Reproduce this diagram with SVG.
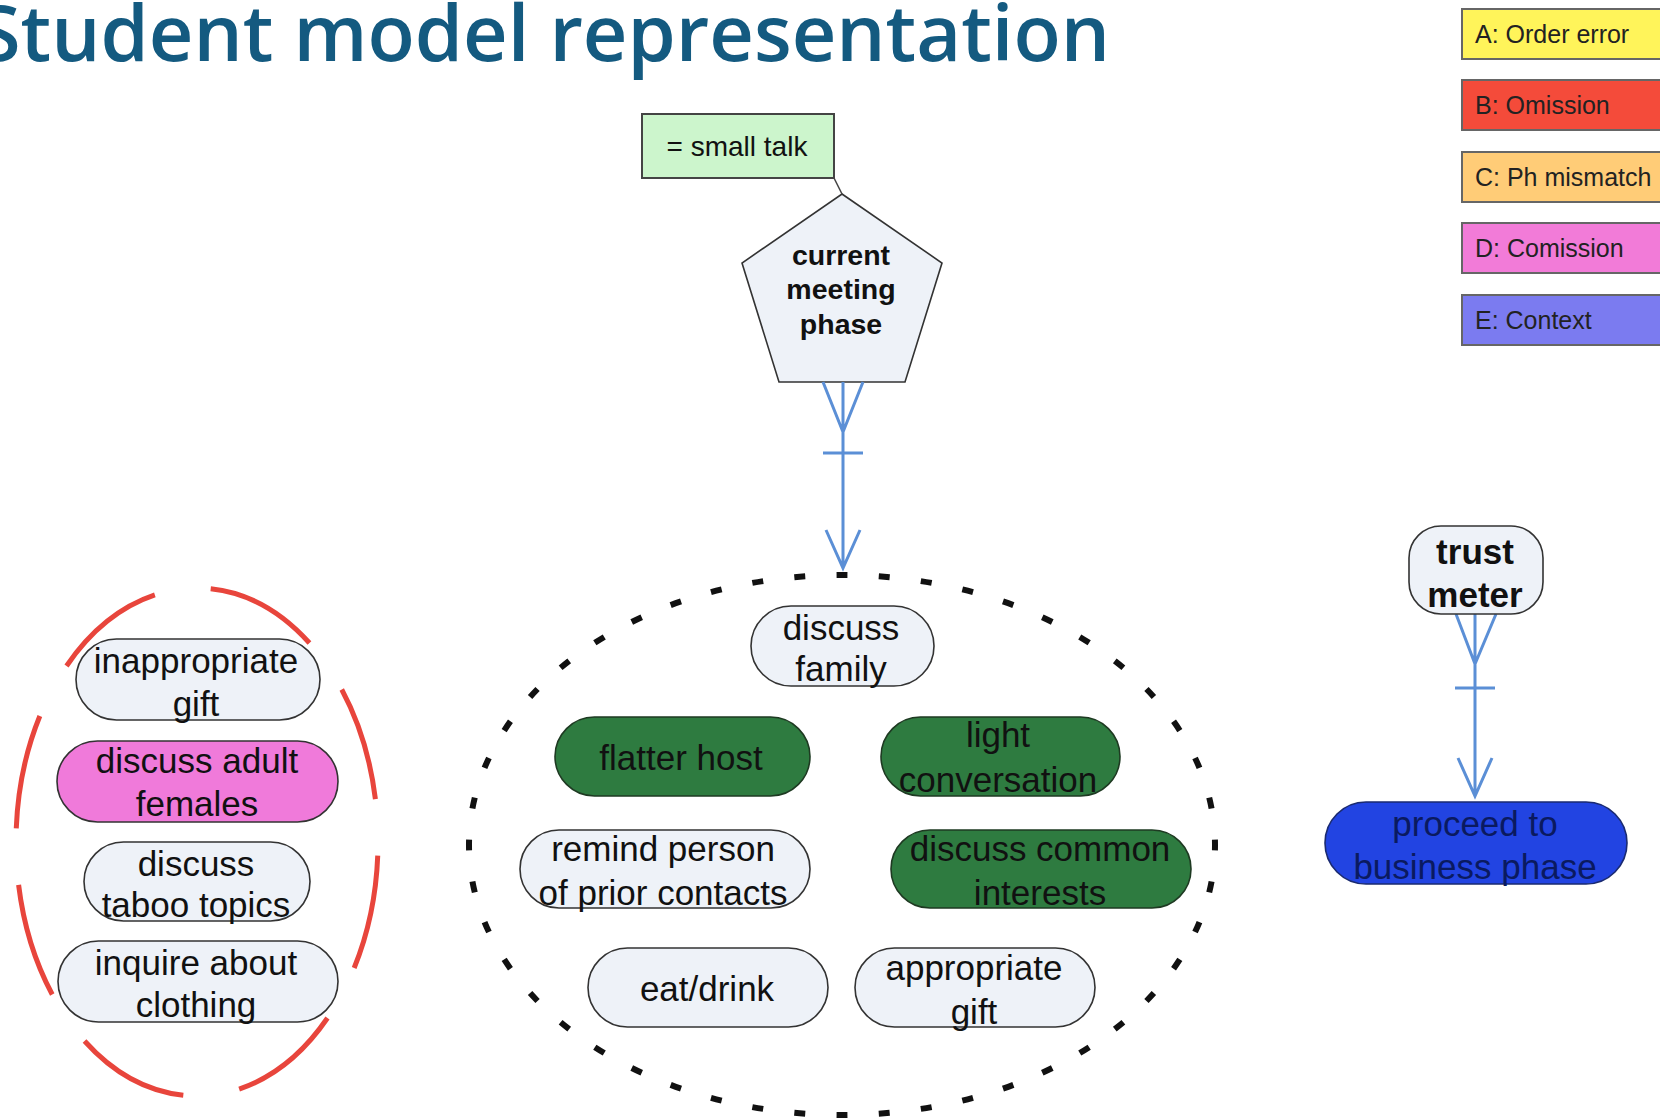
<svg xmlns="http://www.w3.org/2000/svg" width="1660" height="1120" viewBox="0 0 1660 1120">
<defs>
<style>
.t{font-family:"Liberation Sans",Arial,sans-serif;font-size:35px;fill:#111;text-anchor:middle}
.b{font-weight:bold}
.leg{font-family:"Liberation Sans",Arial,sans-serif;font-size:25px;fill:#222}
.lb{stroke:#666;stroke-width:2}
.n{fill:#eef2f8;stroke:#333;stroke-width:1.6}
.g{fill:#2e7b40;stroke:#1e3a22;stroke-width:1.6}
.p{fill:#f07ada;stroke:#333;stroke-width:1.6}
.bl{fill:#2244e2;stroke:#1a2a70;stroke-width:1.6}
.c{stroke:#5b8fd6;stroke-width:3;fill:none}
</style>
</defs>
<rect width="1660" height="1120" fill="#ffffff"/>
<text x="-22" y="61" font-family="'Open Sans',sans-serif" font-weight="600" font-size="78" fill="#145a80" textLength="1132" lengthAdjust="spacingAndGlyphs">Student model representation</text>

<g id="legend">
<rect class="lb" x="1462" y="9" width="220" height="50" fill="#fff45a"/>
<text class="leg" x="1475" y="43">A: Order error</text>
<rect class="lb" x="1462" y="80" width="220" height="50" fill="#f44b3a"/>
<text class="leg" x="1475" y="114">B: Omission</text>
<rect class="lb" x="1462" y="152" width="220" height="50" fill="#ffcc77"/>
<text class="leg" x="1475" y="186">C: Ph mismatch</text>
<rect class="lb" x="1462" y="223" width="220" height="50" fill="#f27bd8"/>
<text class="leg" x="1475" y="257">D: Comission</text>
<rect class="lb" x="1462" y="295" width="220" height="50" fill="#7b7bf0"/>
<text class="leg" x="1475" y="329">E: Context</text>
</g>

<g id="small-talk">
<rect x="642" y="114" width="192" height="64" fill="#ccf5cc" stroke="#444" stroke-width="2"/>
<text class="t" x="737" y="156" style="font-size:28px">= small talk</text>
</g>

<g id="current-meeting-phase">
<polygon points="842,194 942,263 905,382 779,382 742,263" fill="#eef2f8" stroke="#333" stroke-width="1.6"/>
<text class="t b" x="841" y="265" style="font-size:28.5px">current</text>
<text class="t b" x="841" y="299" style="font-size:28.5px">meeting</text>
<text class="t b" x="841" y="334" style="font-size:28.5px">phase</text>
</g>

<g id="small-talk-group">
<ellipse cx="842" cy="845" rx="373" ry="270" fill="none" stroke="#111" stroke-width="6" pathLength="480" stroke-dasharray="2.6 7.4" stroke-dashoffset="1.3"/>
</g>

<g id="inappropriate-group">
<ellipse cx="197" cy="842" rx="181" ry="254" fill="none" stroke="#e8453c" stroke-width="5" pathLength="800" stroke-dasharray="67 33" stroke-dashoffset="92"/>
</g>

<g id="connectors">
<line x1="834" y1="178" x2="842" y2="194" stroke="#444" stroke-width="1.6"/>
<path class="c" d="M843,382 V568 M823,382 L843,432 L863,382 M823,453 H863 M826,530 L843,568 L860,530"/>
<path class="c" d="M1475,614 V796 M1456,614 L1475,664 L1496,614 M1455,688 H1495 M1458,758 L1475,796 L1492,758"/>
</g>

<g id="discuss-family">
<rect class="n" x="751" y="606" width="183" height="80" rx="40"/>
<text class="t" x="841" y="640">discuss</text>
<text class="t" x="841" y="681">family</text>
</g>
<g id="flatter-host">
<rect class="g" x="555" y="717" width="255" height="79" rx="39.5"/>
<text class="t" x="681" y="770">flatter host</text>
</g>
<g id="light-conversation">
<rect class="g" x="881" y="717" width="239" height="79" rx="39.5"/>
<text class="t" x="998" y="747">light</text>
<text class="t" x="998" y="792">conversation</text>
</g>
<g id="remind-person">
<rect class="n" x="520" y="830" width="290" height="78" rx="39"/>
<text class="t" x="663" y="861">remind person</text>
<text class="t" x="663" y="905">of prior contacts</text>
</g>
<g id="discuss-common-interests">
<rect class="g" x="891" y="830" width="300" height="78" rx="39"/>
<text class="t" x="1040" y="861">discuss common</text>
<text class="t" x="1040" y="905">interests</text>
</g>
<g id="eat-drink">
<rect class="n" x="588" y="948" width="240" height="79" rx="39.5"/>
<text class="t" x="707" y="1001">eat/drink</text>
</g>
<g id="appropriate-gift">
<rect class="n" x="855" y="948" width="240" height="79" rx="39.5"/>
<text class="t" x="974" y="980">appropriate</text>
<text class="t" x="974" y="1024">gift</text>
</g>

<g id="inappropriate-gift">
<rect class="n" x="76" y="639" width="244" height="81" rx="40.5"/>
<text class="t" x="196" y="673">inappropriate</text>
<text class="t" x="196" y="716">gift</text>
</g>
<g id="discuss-adult-females">
<rect class="p" x="57" y="741" width="281" height="81" rx="40.5"/>
<text class="t" x="197" y="773">discuss adult</text>
<text class="t" x="197" y="816">females</text>
</g>
<g id="discuss-taboo-topics">
<rect class="n" x="84" y="842" width="226" height="79" rx="39.5"/>
<text class="t" x="196" y="876">discuss</text>
<text class="t" x="196" y="917">taboo topics</text>
</g>
<g id="inquire-about-clothing">
<rect class="n" x="58" y="941" width="280" height="81" rx="40.5"/>
<text class="t" x="196" y="975">inquire about</text>
<text class="t" x="196" y="1017">clothing</text>
</g>

<g id="trust-meter">
<rect class="n" x="1409" y="526" width="134" height="88" rx="32"/>
<text class="t b" x="1475" y="564">trust</text>
<text class="t b" x="1475" y="607">meter</text>
</g>
<g id="proceed-to-business-phase">
<rect class="bl" x="1325" y="802" width="302" height="82" rx="41"/>
<text class="t" x="1475" y="836" style="fill:#0a1a60">proceed to</text>
<text class="t" x="1475" y="879" style="fill:#0a1a60">business phase</text>
</g>
</svg>
